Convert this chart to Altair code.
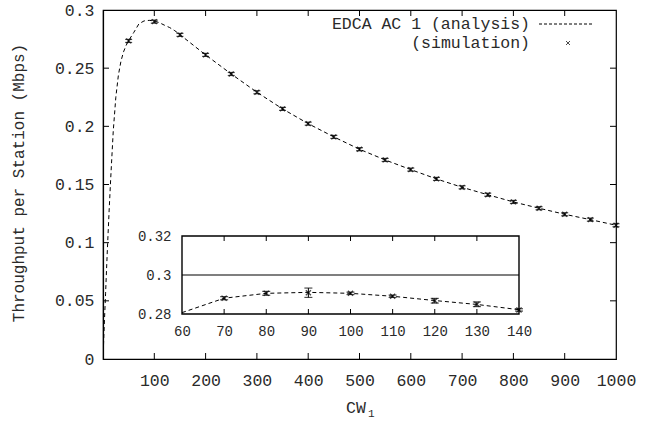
import altair as alt
import pandas as pd

# ---------------- data ----------------
ana_x = [1, 2, 3, 5, 7, 9, 12, 15, 20, 25, 30, 35, 40, 45, 50, 60, 70, 80, 90, 100,
         110, 120, 130, 140, 150, 200, 250, 300, 350, 400, 450, 500, 550, 600, 650,
         700, 750, 800, 850, 900, 950, 1000]
ana_y = [0.012, 0.024, 0.035, 0.056, 0.078, 0.099, 0.128, 0.155, 0.196, 0.225, 0.244,
         0.256, 0.264, 0.2695, 0.2737, 0.2807, 0.2881, 0.2906, 0.2911, 0.2906,
         0.2891, 0.2869, 0.2849, 0.2822, 0.2788, 0.2614, 0.2450, 0.2293, 0.2150,
         0.2023, 0.1909, 0.1803, 0.1711, 0.1628, 0.1548, 0.1476, 0.1412, 0.1350,
         0.1296, 0.1244, 0.1198, 0.1150]

sim_x = [50, 100, 150, 200, 250, 300, 350, 400, 450, 500, 550, 600, 650, 700, 750,
         800, 850, 900, 950, 1000]
sim_y = [0.2734, 0.2900, 0.2786, 0.2614, 0.2450, 0.2293, 0.2150, 0.2023, 0.1909,
         0.1803, 0.1711, 0.1628, 0.1548, 0.1476, 0.1412, 0.1350, 0.1296, 0.1244,
         0.1198, 0.1150]
sim_err = [0.0013] * len(sim_x)

ins_x = [70, 80, 90, 100, 110, 120, 130, 140]
ins_y = [0.2881, 0.2906, 0.2909, 0.2906, 0.2891, 0.2868, 0.2850, 0.2821]
ins_err = [0.0008, 0.0010, 0.0024, 0.0006, 0.0006, 0.0012, 0.0012, 0.0006]

x_ticks = [100, 200, 300, 400, 500, 600, 700, 800, 900, 1000]
y_ticks = [0, 0.05, 0.1, 0.15, 0.2, 0.25, 0.3]
ins_x_ticks = [60, 70, 80, 90, 100, 110, 120, 130, 140]
ins_y_ticks = [0.28, 0.3, 0.32]
ins_ref = [0.3]

legend_labels = ["EDCA AC 1 (analysis)", "(simulation)"]
x_title = "CW"
x_sub = "1"
y_title = "Throughput per Station (Mbps)"

# ---------------- geometry / style ----------------
W, H = 513, 349
FONT = "Liberation Mono"
TXT = "#2a2a2a"
XMARK = "M-1,-1L1,1M-1,1L1,-1"

ana = pd.DataFrame({"x": ana_x, "y": ana_y})
sim = pd.DataFrame({"x": sim_x, "y": sim_y, "e": sim_err})
sim["lo"] = sim["y"] - sim["e"]
sim["hi"] = sim["y"] + sim["e"]
ins = pd.DataFrame({"x": ins_x, "y": ins_y, "e": ins_err})
ins["lo"] = ins["y"] - ins["e"]
ins["hi"] = ins["y"] + ins["e"]

xs = alt.Scale(domain=[0, 1000], nice=False, zero=False)
ys = alt.Scale(domain=[0, 0.3], nice=False, zero=False)

X = alt.X("x:Q", scale=xs, title=None,
          axis=alt.Axis(values=x_ticks, tickSize=0, grid=False, domainColor="black",
                        domainWidth=1.2,
                        labelFont=FONT, labelFontSize=16.5, labelColor=TXT,
                        labelPadding=13, labelFlush=False, format="d"))
Y = alt.Y("y:Q", scale=ys, title=None,
          axis=alt.Axis(values=y_ticks, tickSize=0, grid=False, domainColor="black",
                        domainWidth=1.2,
                        labelFont=FONT, labelFontSize=16.5, labelColor=TXT,
                        labelPadding=9, format="~g"))

main_line = alt.Chart(ana).mark_line(color="black", strokeWidth=1,
                                     strokeDash=[4, 3]).encode(x=X, y=Y)
main_bar = alt.Chart(sim).mark_rule(color="black", strokeWidth=1).encode(
    x=alt.X("x:Q", scale=xs), y=alt.Y("lo:Q", scale=ys), y2="hi:Q")
main_cap_lo = alt.Chart(sim).mark_tick(color="black", thickness=1.2, size=7,
                                        orient="horizontal").encode(
    x=alt.X("x:Q", scale=xs), y=alt.Y("lo:Q", scale=ys))
main_cap_hi = alt.Chart(sim).mark_tick(color="black", thickness=1.2, size=7,
                                        orient="horizontal").encode(
    x=alt.X("x:Q", scale=xs), y=alt.Y("hi:Q", scale=ys))
main_pts = alt.Chart(sim).mark_point(shape=XMARK, filled=False, color="black",
                                     strokeWidth=1.3, size=24).encode(
    x=alt.X("x:Q", scale=xs), y=alt.Y("y:Q", scale=ys))

xt = pd.DataFrame({"x": x_ticks[:-1]})
yt = pd.DataFrame({"y": y_ticks[1:-1]})
tick_b = alt.Chart(xt).mark_rule(color="black").encode(
    x=alt.X("x:Q", scale=xs), y=alt.value(H), y2=alt.value(H - 6))
tick_t = alt.Chart(xt).mark_rule(color="black").encode(
    x=alt.X("x:Q", scale=xs), y=alt.value(0), y2=alt.value(6))
tick_l = alt.Chart(yt).mark_rule(color="black").encode(
    y=alt.Y("y:Q", scale=ys), x=alt.value(0), x2=alt.value(6))
tick_r = alt.Chart(yt).mark_rule(color="black").encode(
    y=alt.Y("y:Q", scale=ys), x=alt.value(W), x2=alt.value(W - 6))

# legend (custom, gnuplot style)
leg = pd.DataFrame({"t": legend_labels, "row": [0, 1]})
leg_text1 = alt.Chart(leg[leg.row == 0]).mark_text(
    align="right", baseline="middle", font=FONT, fontSize=16.5, color=TXT).encode(
    text="t:N", x=alt.value(427), y=alt.value(14))
leg_text2 = alt.Chart(leg[leg.row == 1]).mark_text(
    align="right", baseline="middle", font=FONT, fontSize=16.5, color=TXT).encode(
    text="t:N", x=alt.value(427), y=alt.value(33))
leg_line = alt.Chart(leg[leg.row == 0]).mark_rule(
    color="black", strokeWidth=1, strokeDash=[3, 2]).encode(
    x=alt.value(436), x2=alt.value(490), y=alt.value(14))
leg_pt = alt.Chart(leg[leg.row == 1]).mark_point(
    shape=XMARK, filled=False, color="black", strokeWidth=1, size=16).encode(
    x=alt.value(465), y=alt.value(33))

titles = pd.DataFrame({"a": [x_title], "b": [x_sub], "c": [y_title]})
xt_main = alt.Chart(titles).mark_text(font=FONT, fontSize=16.5, color=TXT,
                                      align="center", baseline="middle").encode(
    text="a:N", x=alt.value(253), y=alt.value(398))
xt_sub = alt.Chart(titles).mark_text(font=FONT, fontSize=11, color=TXT,
                                     align="left", baseline="middle").encode(
    text="b:N", x=alt.value(265), y=alt.value(404))
yt_main = alt.Chart(titles).mark_text(font=FONT, fontSize=16, color=TXT, angle=270,
                                      align="center", baseline="middle").encode(
    text="c:N", x=alt.value(-84), y=alt.value(173))

main = alt.layer(main_line, main_bar, main_cap_lo, main_cap_hi, main_pts,
                 tick_b, tick_t, tick_l, tick_r,
                 leg_text1, leg_text2, leg_line, leg_pt, xt_main, xt_sub, yt_main)

# ---------------- inset ----------------
IX0, IX1 = 79, 416       # plot-area pixels of inset x-range
IY0, IY1 = 304, 226      # plot-area pixels of inset y-range (bottom, top)
ixs = alt.Scale(domain=[60, 140], range=[IX0, IX1], nice=False, zero=False)
iys = alt.Scale(domain=[0.28, 0.32], range=[IY0, IY1], nice=False, zero=False)

box = pd.DataFrame({"x0": [60], "x1": [140], "y0": [0.28], "y1": [0.32]})
ins_box = alt.Chart(box).mark_rect(fill="white", stroke="black", strokeWidth=1.4).encode(
    x=alt.X("x0:Q", scale=ixs, title=None,
            axis=alt.Axis(values=ins_x_ticks, orient="bottom", offset=-(H - IY0),
                          tickSize=0, domain=False, grid=False, labelFont=FONT,
                          labelFontSize=14, labelColor=TXT, labelPadding=10,
                          labelFlush=False, format="d")),
    x2="x1:Q",
    y=alt.Y("y0:Q", scale=iys, title=None,
            axis=alt.Axis(values=ins_y_ticks, orient="left", offset=-IX0,
                          tickSize=0, domain=False, grid=False, labelFont=FONT,
                          labelFontSize=14, labelColor=TXT, labelPadding=11,
                          format="~g")),
    y2="y1:Q")
ins_hline = alt.Chart(pd.DataFrame({"y": ins_ref, "x0": [60], "x1": [140]})).mark_rule(
    color="black", strokeWidth=1.2).encode(
    y=alt.Y("y:Q", scale=iys), x=alt.X("x0:Q", scale=ixs), x2="x1:Q")
ixt = pd.DataFrame({"x": ins_x_ticks[1:-1]})
ins_tick_b = alt.Chart(ixt).mark_rule(color="black").encode(
    x=alt.X("x:Q", scale=ixs), y=alt.value(IY0), y2=alt.value(IY0 - 5))
ins_tick_t = alt.Chart(ixt).mark_rule(color="black").encode(
    x=alt.X("x:Q", scale=ixs), y=alt.value(IY1), y2=alt.value(IY1 + 5))
ins_ana = ana[(ana.x >= 60) & (ana.x <= 140)]
ins_line = alt.Chart(ins_ana).mark_line(color="black", strokeWidth=1,
                                        strokeDash=[4, 3]).encode(
    x=alt.X("x:Q", scale=ixs), y=alt.Y("y:Q", scale=iys))
ins_bar = alt.Chart(ins).mark_rule(color="black", strokeWidth=1).encode(
    x=alt.X("x:Q", scale=ixs), y=alt.Y("lo:Q", scale=iys), y2="hi:Q")
ins_cap_lo = alt.Chart(ins).mark_tick(color="black", thickness=1.2, size=8,
                                      orient="horizontal").encode(
    x=alt.X("x:Q", scale=ixs), y=alt.Y("lo:Q", scale=iys))
ins_cap_hi = alt.Chart(ins).mark_tick(color="black", thickness=1.2, size=8,
                                      orient="horizontal").encode(
    x=alt.X("x:Q", scale=ixs), y=alt.Y("hi:Q", scale=iys))
ins_pts = alt.Chart(ins).mark_point(shape=XMARK, filled=False, color="black",
                                    strokeWidth=1.3, size=26).encode(
    x=alt.X("x:Q", scale=ixs), y=alt.Y("y:Q", scale=iys))

inset = alt.layer(ins_box, ins_hline, ins_tick_b, ins_tick_t, ins_line,
                  ins_bar, ins_cap_lo, ins_cap_hi, ins_pts)

chart = alt.layer(main, inset).resolve_scale(
    x="independent", y="independent").properties(
    width=W, height=H,
    padding={"left": 103, "top": 10, "right": 36, "bottom": 67},
    autosize=alt.AutoSizeParams(type="none"),
    background="white",
).configure_view(stroke="black", strokeWidth=1.2)

chart.save("out.html", embed_options={"renderer": "svg", "actions": False})
